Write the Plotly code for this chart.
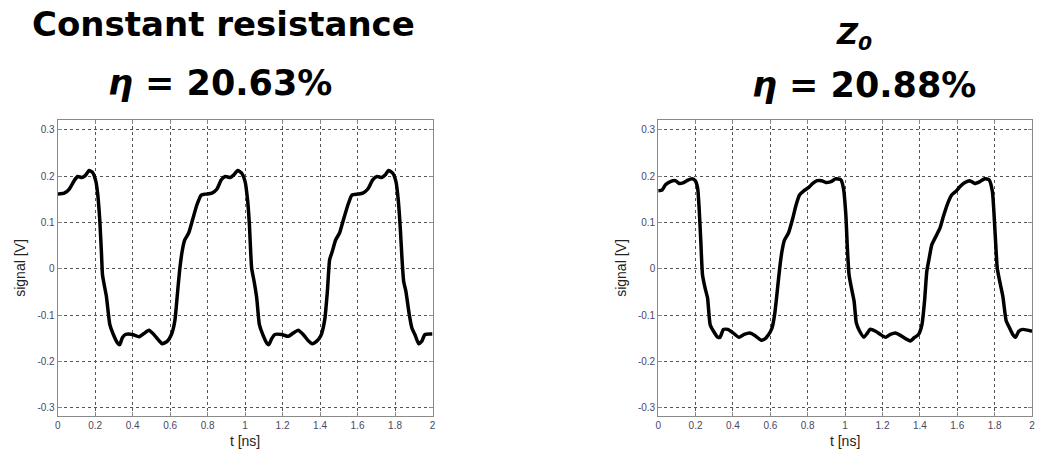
import plotly.graph_objects as go

# ---- data ----
t_left = [0, 0.035, 0.062, 0.088, 0.106, 0.129, 0.147, 0.168, 0.186, 0.204, 0.214, 0.225, 0.234, 0.239,
          0.248, 0.26, 0.278, 0.297, 0.319, 0.331, 0.345, 0.363, 0.398, 0.434, 0.46, 0.487, 0.513, 0.54,
          0.558, 0.584, 0.607, 0.625, 0.637, 0.65, 0.664, 0.678, 0.699, 0.72, 0.743, 0.766, 0.788, 0.823,
          0.85, 0.873, 0.894, 0.92, 0.938, 0.961, 0.982, 1.0, 1.014, 1.023, 1.035, 1.048, 1.062, 1.076,
          1.094, 1.115, 1.127, 1.142, 1.159, 1.195, 1.23, 1.257, 1.283, 1.31, 1.336, 1.358, 1.381, 1.404,
          1.425, 1.439, 1.451, 1.465, 1.483, 1.504, 1.522, 1.549, 1.57, 1.602, 1.628, 1.655, 1.681, 1.704,
          1.729, 1.747, 1.765, 1.788, 1.805, 1.818, 1.828, 1.837, 1.846, 1.858, 1.876, 1.89, 1.906, 1.926,
          1.942, 1.96, 2.0]
v_left = [0.161, 0.163, 0.172, 0.19, 0.199, 0.197, 0.201, 0.212, 0.208, 0.188, 0.159, 0.102, 0.03, -0.013,
          -0.034, -0.06, -0.12, -0.142, -0.16, -0.164, -0.149, -0.142, -0.142, -0.147, -0.14, -0.133, -0.142, -0.155,
          -0.162, -0.157, -0.142, -0.113, -0.063, -0.006, 0.037, 0.062, 0.077, 0.106, 0.138, 0.159, 0.161, 0.163,
          0.172, 0.192, 0.199, 0.197, 0.202, 0.212, 0.206, 0.188, 0.145, 0.095, 0.001, -0.027, -0.063, -0.12,
          -0.142, -0.16, -0.164, -0.151, -0.142, -0.142, -0.146, -0.139, -0.133, -0.142, -0.155, -0.162, -0.157, -0.145,
          -0.11, -0.049, 0.019, 0.037, 0.062, 0.077, 0.102, 0.138, 0.159, 0.161, 0.163, 0.172, 0.192, 0.199,
          0.197, 0.202, 0.212, 0.206, 0.188, 0.145, 0.088, 0.023, -0.027, -0.049, -0.099, -0.128, -0.142, -0.162,
          -0.157, -0.142, -0.141]

t_right = [0, 0.021, 0.039, 0.065, 0.092, 0.113, 0.136, 0.159, 0.181, 0.198, 0.211, 0.219, 0.228, 0.237,
           0.251, 0.264, 0.278, 0.296, 0.319, 0.331, 0.349, 0.372, 0.402, 0.432, 0.46, 0.49, 0.517, 0.549,
           0.566, 0.591, 0.609, 0.623, 0.635, 0.65, 0.662, 0.676, 0.697, 0.72, 0.738, 0.756, 0.779, 0.804,
           0.827, 0.85, 0.874, 0.897, 0.924, 0.95, 0.977, 0.991, 1.004, 1.012, 1.021, 1.034, 1.048, 1.06,
           1.078, 1.101, 1.119, 1.133, 1.163, 1.189, 1.216, 1.242, 1.269, 1.296, 1.327, 1.349, 1.37, 1.393,
           1.411, 1.425, 1.437, 1.45, 1.464, 1.481, 1.508, 1.526, 1.549, 1.57, 1.593, 1.614, 1.641, 1.667,
           1.694, 1.721, 1.747, 1.77, 1.788, 1.796, 1.805, 1.814, 1.827, 1.844, 1.862, 1.88, 1.897, 1.912,
           1.929, 1.95, 2.0]
v_right = [0.168, 0.17, 0.181, 0.188, 0.19, 0.184, 0.186, 0.191, 0.194, 0.19, 0.174, 0.131, 0.059, -0.013,
           -0.042, -0.063, -0.121, -0.135, -0.148, -0.148, -0.131, -0.131, -0.139, -0.148, -0.142, -0.139, -0.144, -0.154,
           -0.153, -0.142, -0.128, -0.099, -0.056, 0.001, 0.037, 0.062, 0.077, 0.109, 0.138, 0.159, 0.168, 0.175,
           0.184, 0.19, 0.19, 0.186, 0.188, 0.194, 0.192, 0.174, 0.116, 0.045, -0.013, -0.042, -0.07, -0.117,
           -0.135, -0.148, -0.139, -0.131, -0.135, -0.142, -0.148, -0.142, -0.139, -0.144, -0.152, -0.156, -0.149, -0.142,
           -0.121, -0.07, -0.006, 0.023, 0.052, 0.066, 0.088, 0.113, 0.141, 0.159, 0.167, 0.177, 0.186, 0.19,
           0.184, 0.188, 0.194, 0.192, 0.167, 0.123, 0.059, 0.001, -0.027, -0.06, -0.113, -0.128, -0.142, -0.148,
           -0.135, -0.131, -0.135]

x_ticks = [0, 0.2, 0.4, 0.6, 0.8, 1, 1.2, 1.4, 1.6, 1.8, 2]
x_tick_text = ["0", "0.2", "0.4", "0.6", "0.8", "1", "1.2", "1.4", "1.6", "1.8", "2"]
y_ticks = [-0.3, -0.2, -0.1, 0, 0.1, 0.2, 0.3]
y_tick_text = ["-0.3", "-0.2", "-0.1", "0", "0.1", "0.2", "0.3"]

W, H = 1039, 457

fig = go.Figure()
fig.add_trace(go.Scatter(x=t_left, y=v_left, mode="lines", line=dict(color="black", width=3.5, shape="spline", smoothing=0.5),
                         xaxis="x", yaxis="y", showlegend=False))
fig.add_trace(go.Scatter(x=t_right, y=v_right, mode="lines", line=dict(color="black", width=3.5, shape="spline", smoothing=0.5),
                         xaxis="x2", yaxis="y2", showlegend=False))

tick_font = dict(family="Arial, Liberation Sans, sans-serif", size=10, color="#4a4863")
title_font = dict(family="Arial, Liberation Sans, sans-serif", size=14, color="#222")

def xax(domain, anchor):
    return dict(domain=domain, anchor=anchor, range=[0, 2], tickmode="array", tickvals=x_ticks, ticktext=x_tick_text,
                showgrid=True, gridcolor="#555", griddash="dot", gridwidth=1, zeroline=False,
                showline=True, linecolor="#8a8a8a", linewidth=1, mirror="all",
                ticks="inside", ticklen=4, tickcolor="#8a8a8a", tickfont=tick_font,
                title=dict(text="t [ns]", font=title_font, standoff=6))

def yax(domain, anchor):
    return dict(domain=domain, anchor=anchor, range=[-0.318, 0.321], tickmode="array", tickvals=y_ticks, ticktext=y_tick_text,
                showgrid=True, gridcolor="#555", griddash="dot", gridwidth=1, zeroline=False,
                showline=True, linecolor="#8a8a8a", linewidth=1, mirror="all",
                ticks="inside", ticklen=4, tickcolor="#8a8a8a", tickfont=tick_font,
                title=dict(text="signal [V]", font=title_font, standoff=8))

ydom = [1 - 416 / H, 1 - 120 / H]
fig.update_layout(
    width=W, height=H, margin=dict(l=0, r=0, t=0, b=0),
    paper_bgcolor="white", plot_bgcolor="white",
    xaxis=xax([55 / W, 432 / W], "y"),
    yaxis=yax(ydom, "x"),
    xaxis2=xax([659 / W, 1035 / W], "y2"),
    yaxis2=yax(ydom, "x2"),
)

big = dict(family="DejaVu Sans, sans-serif", size=34, color="black")
fig.add_annotation(text="<b>Constant resistance</b>", x=222 / W, y=1 - 24 / H, xref="paper", yref="paper",
                   xanchor="center", yanchor="middle", showarrow=False, font=big)
fig.add_annotation(text="<b><i>η</i> = 20.63%</b>", x=218 / W, y=1 - 83 / H, xref="paper", yref="paper",
                   xanchor="center", yanchor="middle", showarrow=False, font=dict(big, size=35))
fig.add_annotation(text="<b><i>Z<sub>0</sub></i></b>", x=856 / W, y=1 - 36 / H, xref="paper", yref="paper",
                   xanchor="center", yanchor="middle", showarrow=False, font=dict(big, size=29))
fig.add_annotation(text="<b><i>η</i> = 20.88%</b>", x=866 / W, y=1 - 85 / H, xref="paper", yref="paper",
                   xanchor="center", yanchor="middle", showarrow=False, font=dict(big, size=35))

fig.write_html("out.html")
